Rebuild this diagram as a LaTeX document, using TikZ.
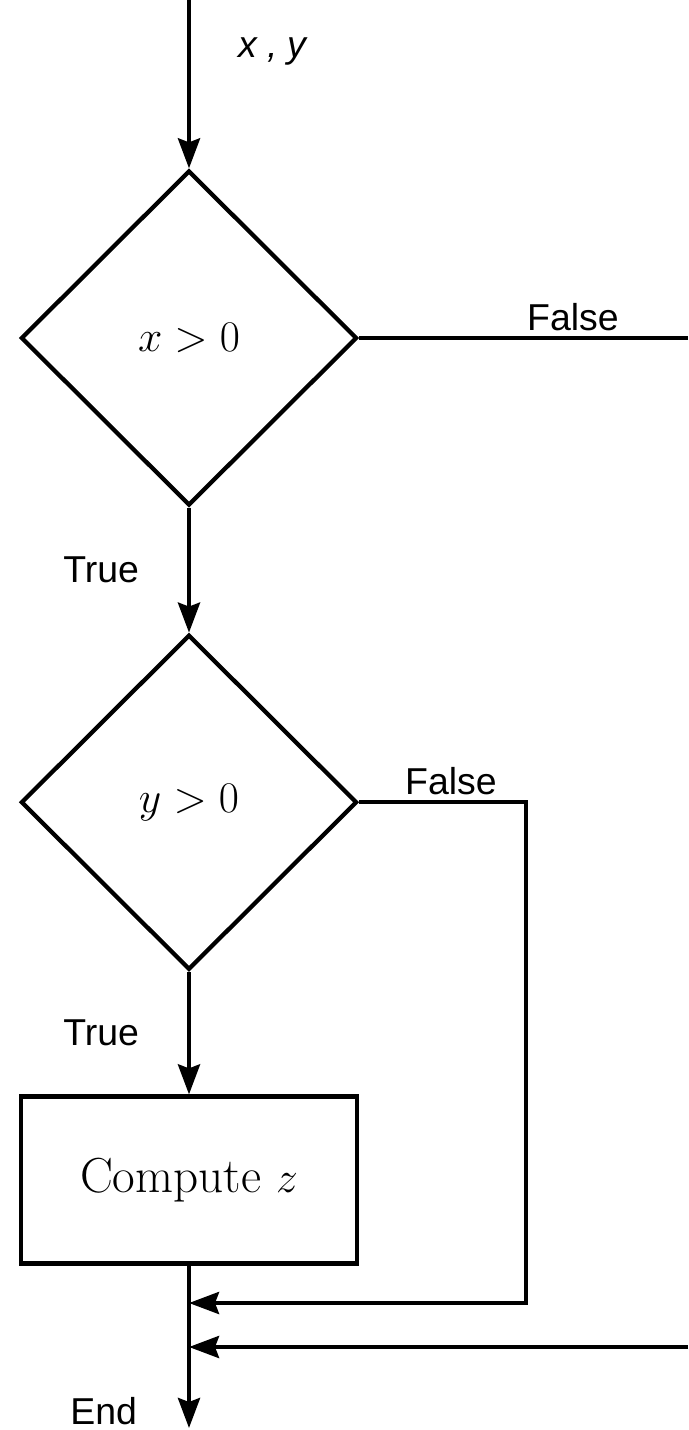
\documentclass[tikz,border=0pt]{standalone}
\usepackage{fontspec}
\newfontfamily\labelfont{Liberation Sans}
\usetikzlibrary{positioning,arrows.meta,shapes.geometric}

\begin{document}
\begin{tikzpicture}[
  >={Stealth[length=6mm, width=4.4mm, inset=0.8mm]}, line width=0.085cm,
  dec/.style={diamond, draw=black, align=center, inner sep=0pt,
              minimum width=6.72cm, minimum height=6.7cm,
              font=\fontsize{29pt}{34pt}\selectfont},
  proc/.style={rectangle, draw=black, align=center,
               minimum width=6.72cm, minimum height=3.34cm,
               font=\fontsize{28pt}{33pt}\selectfont},
  lbl/.style={inner sep=0pt, outer sep=0pt,
              font=\labelfont\fontsize{21.3pt}{25pt}\selectfont}
]
\useasboundingbox (0,0) rectangle (13.76,-28.6);

\coordinate (start) at (3.78,0);
\node[dec] (xgt) at (3.78,-6.76) {$x>0$};
\node[dec, below=2.5cm of xgt] (ygt) {$y>0$};
\node[proc, below=2.45cm of ygt] (comp) {Compute $z$};
\node[lbl, anchor=base west] (xy) at (4.76,-1.14) {\itshape x , y};

\coordinate (finish) at (3.78,-28.56);
\coordinate (j1) at (3.78,-26.06);
\coordinate (j2) at (3.78,-26.94);
\coordinate (xout) at (13.76,-6.76);
\coordinate (xin) at (13.76,-26.94);

\draw[->] (start) -- (xgt);
\draw[->] (xgt) -- node[lbl, left=1cm] {True} (ygt);
\draw[->] (ygt) -- node[lbl, left=1cm] {True} (comp);
\draw[->] (comp) -- (finish) node[lbl, left=1.04cm, yshift=0.34cm] (endlbl) {End};
\draw (xgt.east) -- node[lbl, pos=0.65, above=0.14cm] {False} (xout);
\draw[->] (ygt.east) -- node[lbl, pos=0.55, above=0.14cm] {False} ++(3.34,0) |- (j1);
\draw[->] (xin) -- (j2);

\end{tikzpicture}
\end{document}
